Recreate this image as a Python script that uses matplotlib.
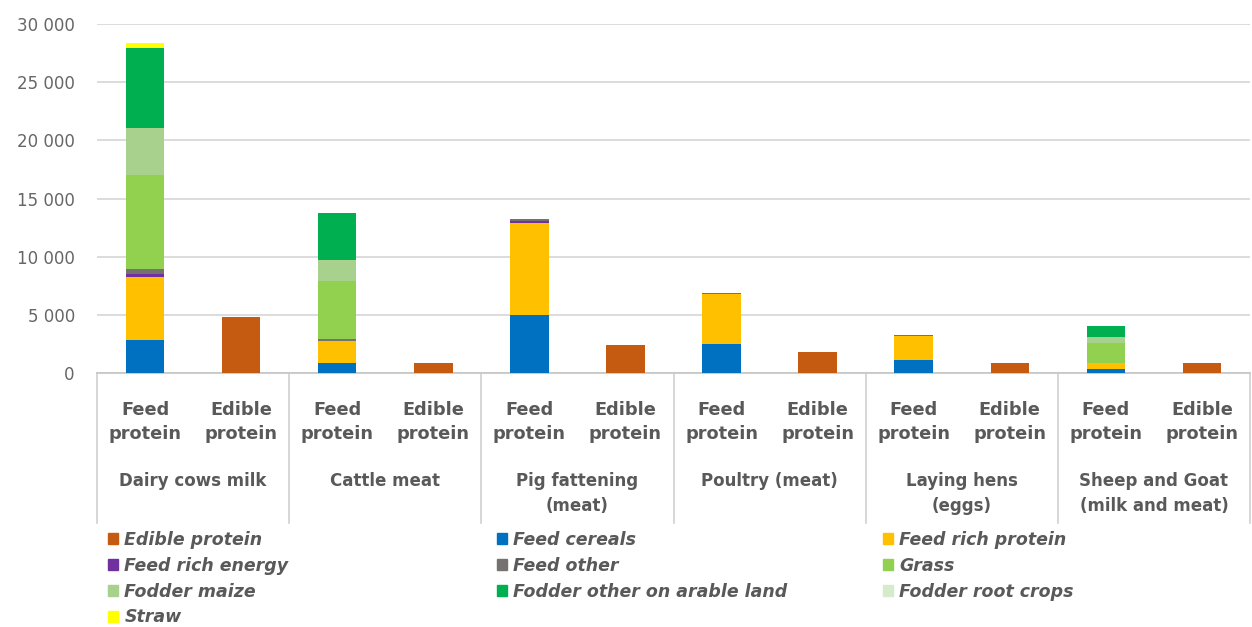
import numpy as np
import matplotlib
matplotlib.use("Agg")
import matplotlib.pyplot as plt
from matplotlib.ticker import FuncFormatter
import matplotlib.transforms as mtransforms
from matplotlib.patches import Patch

# Categories
groups = ["Dairy cows milk", "Cattle meat", "Pig fattening\n(meat)", "Poultry (meat)",
          "Laying hens\n(eggs)", "Sheep and Goat\n(milk and meat)"]
bar_labels = ["Feed\nprotein", "Edible\nprotein"]

# Edible protein (second bar of each group)
edible_protein = [4800, 850, 2400, 1800, 850, 850]

# Feed protein components (first bar of each group), bottom -> top
feed_cereals = [2850, 850, 5000, 2500, 1100, 350]
feed_rich_protein = [5400, 1900, 7900, 4300, 2100, 550]
feed_rich_energy = [300, 0, 200, 0, 0, 0]
feed_other = [400, 200, 150, 90, 60, 0]
grass = [8100, 4950, 0, 0, 0, 1700]
fodder_maize = [4050, 1800, 0, 0, 0, 500]
fodder_other_arable = [6800, 4050, 0, 0, 0, 950]
fodder_root_crops = [0, 0, 0, 0, 0, 0]
straw = [500, 0, 0, 0, 0, 0]

feed_series = [
    ("Feed cereals", feed_cereals, "#0070C0"),
    ("Feed rich protein", feed_rich_protein, "#FFC000"),
    ("Feed rich energy", feed_rich_energy, "#7030A0"),
    ("Feed other", feed_other, "#767171"),
    ("Grass", grass, "#92D050"),
    ("Fodder maize", fodder_maize, "#A9D18E"),
    ("Fodder other on arable land", fodder_other_arable, "#00B050"),
    ("Fodder root crops", fodder_root_crops, "#D5EBCB"),
    ("Straw", straw, "#FFFF00"),
]
edible_color = "#C55A11"

W, H = 1252, 627
fig = plt.figure(figsize=(W / 100, H / 100), dpi=100)
ax = fig.add_axes([97 / W, (H - 373) / H, (1250 - 97) / W, (373 - 24) / H])

n = len(groups)
feed_x = np.arange(n) * 2 + 0.5
edible_x = np.arange(n) * 2 + 1.5
bw = 0.40

handles = {}
bottom = np.zeros(n)
for name, vals, col in feed_series:
    vals = np.array(vals, dtype=float)
    ax.bar(feed_x, vals, bw, bottom=bottom, color=col, zorder=3)
    bottom += vals
    handles[name] = Patch(color=col)

ax.bar(edible_x, edible_protein, bw, color=edible_color, zorder=3)
handles["Edible protein"] = Patch(color=edible_color)

# axes styling
ax.set_xlim(0, 2 * n)
ax.set_ylim(0, 30000)
ax.set_yticks(np.arange(0, 30001, 5000))
ax.yaxis.set_major_formatter(FuncFormatter(lambda v, p: f"{int(v):,}".replace(",", " ")))
ax.grid(axis="y", color="#d9d9d9", linewidth=1.3, zorder=0)
for s in ["top", "right", "left"]:
    ax.spines[s].set_visible(False)
ax.spines["bottom"].set_color("#c8c8c8")
ax.spines["bottom"].set_linewidth(1.3)
ax.tick_params(axis="y", length=0, pad=16, labelsize=12, labelcolor="#666666")

ticks = np.sort(np.concatenate([feed_x, edible_x]))
ax.set_xticks(ticks)
ax.set_xticklabels(bar_labels * n, fontsize=12.8, fontweight="bold",
                   color="#595959", linespacing=1.45)
ax.tick_params(axis="x", length=0, pad=20)

trans = mtransforms.blended_transform_factory(ax.transData, ax.transAxes)
for i, g in enumerate(groups):
    ax.text(2 * i + 1, -0.285, g, transform=trans, ha="center", va="top",
            fontsize=12, fontweight="bold", color="#595959", linespacing=1.5)

# group separators
for i in range(n + 1):
    ax.plot([2 * i, 2 * i], [0, -0.43], transform=trans, color="#d0d0d0",
            linewidth=1.2, clip_on=False)

# legend in three columns, filled row by row
cols = [
    ["Edible protein", "Feed rich energy", "Fodder maize", "Straw"],
    ["Feed cereals", "Feed other", "Fodder other on arable land"],
    ["Feed rich protein", "Grass", "Fodder root crops"],
]
col_x = [101, 490, 876]
for names, x in zip(cols, col_x):
    fig.legend([handles[k] for k in names], names, loc="upper left",
               bbox_to_anchor=(x / W, 1 - 524 / H), frameon=False,
               handlelength=0.6, handleheight=0.6, handletextpad=0.35,
               labelspacing=0.45, borderaxespad=0,
               prop={"size": 12.5, "style": "italic", "weight": "bold"},
               labelcolor="#595959")

fig.savefig("out.png", dpi=100)
